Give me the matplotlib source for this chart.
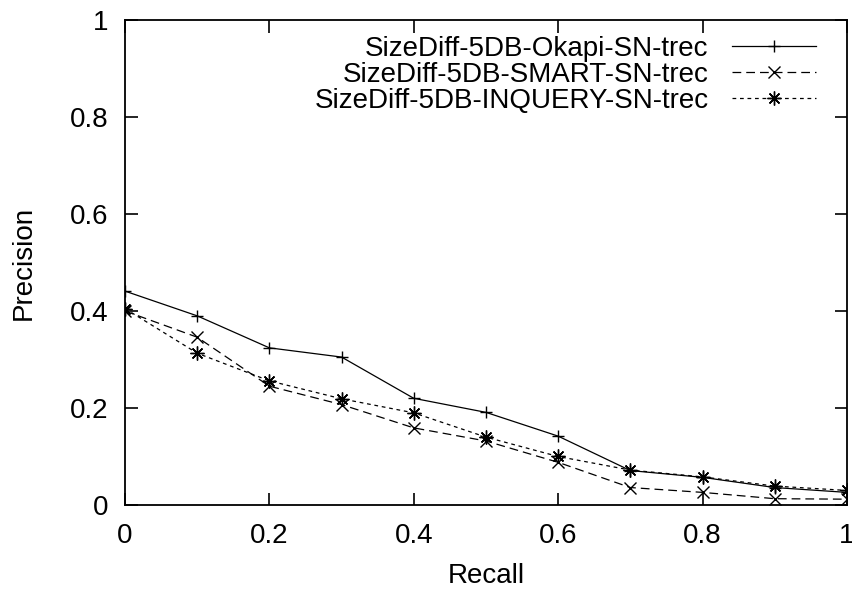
import matplotlib
matplotlib.use("Agg")
import matplotlib.pyplot as plt

plt.rcParams['font.family'] = ['Liberation Sans', 'DejaVu Sans']

recall = [0.0, 0.1, 0.2, 0.3, 0.4, 0.5, 0.6, 0.7, 0.8, 0.9, 1.0]
okapi = [0.441, 0.390, 0.324, 0.305, 0.220, 0.191, 0.142, 0.071, 0.057, 0.036, 0.026]
smart = [0.400, 0.346, 0.245, 0.207, 0.159, 0.132, 0.088, 0.036, 0.026, 0.013, 0.012]
inquery = [0.405, 0.313, 0.256, 0.219, 0.190, 0.140, 0.100, 0.072, 0.058, 0.039, 0.030]
labels = ['SizeDiff-5DB-Okapi-SN-trec', 'SizeDiff-5DB-SMART-SN-trec',
          'SizeDiff-5DB-INQUERY-SN-trec']
ticks = [0, 0.2, 0.4, 0.6, 0.8, 1]
tick_labels = ['0', '0.2', '0.4', '0.6', '0.8', '1']

fs = 20

fig = plt.figure(figsize=(8.52, 5.93), dpi=100)
ax = fig.add_axes([0.1467, 0.1484, 0.8473, 0.8179])

ax.plot(recall, okapi, color='black', lw=0.9, marker='+', ms=9, mew=1.0,
        label=labels[0])
ax.plot(recall, smart, color='black', lw=0.9, marker='x', ms=8, mew=1.0,
        dashes=(7, 4), label=labels[1])
ax.plot(recall, inquery, color='black', lw=0.9, marker=(8, 2, 0), ms=10, mew=1.0,
        dashes=(3, 3), label=labels[2])

ax.set_xlim(0, 1)
ax.set_ylim(0, 1)
ax.set_xticks(ticks)
ax.set_xticklabels(tick_labels)
ax.set_yticks(ticks)
ax.set_yticklabels(tick_labels)
ax.tick_params(direction='in', length=9, width=1.2, labelsize=fs,
               top=True, right=True)
ax.tick_params(axis='y', pad=12)
ax.tick_params(axis='x', pad=13)
for s in ax.spines.values():
    s.set_linewidth(1.3)

ax.set_xlabel('Recall', fontsize=fs, labelpad=10)
ax.set_ylabel('Precision', fontsize=fs, labelpad=24)

leg = ax.legend(loc='upper right', frameon=False, markerfirst=False,
                fontsize=fs, handlelength=3.0, handletextpad=0.85,
                labelspacing=0.0, borderaxespad=0.0,
                bbox_to_anchor=(0.972, 0.99))

fig.savefig('out.png', dpi=100)
